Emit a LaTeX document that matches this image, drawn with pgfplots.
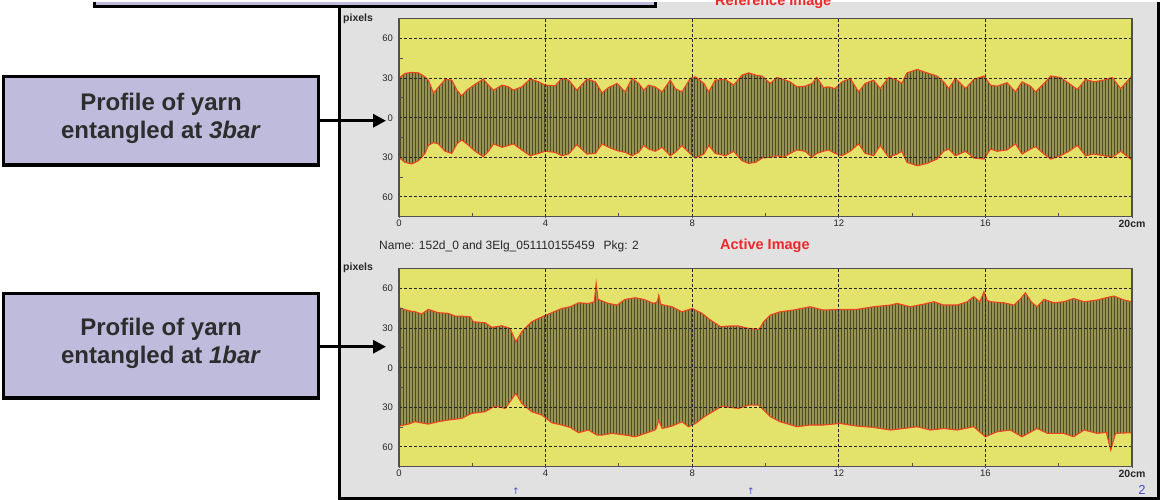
\documentclass[border=0pt]{standalone}
\usepackage{pgfplots}
\pgfplotsset{compat=1.18}
\usepackage{pgfplotstable}
\usetikzlibrary{patterns,arrows.meta}
\usepackage{fontspec}
\setmainfont{Liberation Sans}
\newfontfamily\dejavu{DejaVu Sans}

\definecolor{panelgray}{RGB}{225,225,225}
\definecolor{plotyellow}{RGB}{227,227,108}
\definecolor{lavender}{RGB}{191,187,221}
\definecolor{bodyfill}{RGB}{150,148,80}
\definecolor{stripe}{RGB}{40,40,18}
\definecolor{envred}{RGB}{240,68,30}
\definecolor{titlered}{RGB}{238,40,40}
\definecolor{axgray}{RGB}{80,80,80}
\definecolor{textdark}{RGB}{45,45,45}
\definecolor{markblue}{RGB}{70,80,200}

\pgfdeclarepatternformonly{vstripes}{\pgfpointorigin}{\pgfqpoint{2.9pt}{1pt}}{\pgfqpoint{2.9pt}{1pt}}%
  {\pgfpathrectangle{\pgfpointorigin}{\pgfqpoint{1.0pt}{1pt}}\pgfusepath{fill}}

% Reference image (3 bar): outline of the profile, upper edge left to right, then lower edge right to left
\pgfplotstableread{
x y
0.00 30
0.16 33.6
0.35 34.3
0.53 34
0.71 31
0.80 28.5
0.94 18.8
1.07 22.9
1.26 29
1.44 28.5
1.58 20.9
1.71 16.5
1.85 20.9
2.08 25.4
2.30 29.3
2.44 24.7
2.58 20.9
2.81 24.7
2.99 23.4
3.12 20.9
3.35 23.4
3.58 29.3
3.81 27.2
3.99 24.7
4.26 24.2
4.44 29.8
4.63 28.5
4.85 20.9
5.13 29.3
5.36 27.2
5.54 18.8
5.72 22.9
5.95 26
6.17 19.6
6.36 29.8
6.54 26
6.68 20.9
6.81 24.7
6.99 23.4
7.18 19.6
7.40 28.5
7.54 22.1
7.72 19.6
7.95 29.8
8.09 31
8.32 26
8.45 19.6
8.63 28.5
8.91 29
9.13 24.7
9.36 32.3
9.54 34
9.73 32.3
9.91 31.5
10.13 26
10.31 30.5
10.49 29
10.67 27.2
10.86 23.4
11.08 23.9
11.27 26
11.40 30.5
11.58 22.9
11.72 23.4
11.90 22.1
12.09 27.2
12.31 29.8
12.54 19.6
12.72 26
12.95 28.5
13.13 22.1
13.36 30.5
13.59 28.5
13.72 26
13.86 34
14.14 36.6
14.41 34
14.68 31.6
14.86 27.2
15.00 22.1
15.18 29.8
15.46 22.1
15.68 29
15.96 31.6
16.14 24.7
16.32 23.9
16.59 26.5
16.82 19.6
17.00 27.2
17.23 23.9
17.37 19.6
17.60 26
17.78 31.6
18.05 30.5
18.28 26
18.51 21.4
18.73 29
18.96 27.2
19.23 28.5
19.46 30.5
19.69 22.1
19.96 30.5
20.00 31.6
20.00 -31
19.96 -31.3
19.69 -25.4
19.46 -30
19.23 -28.8
18.96 -27.5
18.73 -28.8
18.51 -21
18.28 -25.4
18.05 -28.8
17.78 -31.3
17.60 -27.5
17.37 -21.9
17.23 -23.7
17.00 -27.5
16.82 -19.8
16.59 -24.4
16.32 -25.4
16.14 -23.7
15.96 -31.3
15.68 -30.5
15.46 -25.4
15.18 -28.8
15.00 -23.7
14.86 -25.4
14.68 -31.3
14.41 -34.6
14.14 -36.4
13.86 -33.8
13.72 -25.4
13.59 -27.5
13.36 -30
13.13 -21
12.95 -28.8
12.72 -27
12.54 -19.8
12.31 -25.4
12.09 -28.8
11.90 -27
11.72 -24.4
11.58 -25.4
11.40 -27
11.27 -30
11.08 -25.4
10.86 -24.4
10.67 -27
10.49 -30
10.31 -28.8
10.13 -30
9.91 -30.5
9.73 -33.8
9.54 -34.6
9.36 -32.6
9.13 -25.4
8.91 -28.8
8.63 -27
8.45 -21
8.32 -27.5
8.09 -30.5
7.95 -27.5
7.72 -21
7.54 -26.2
7.40 -28.8
7.18 -22.4
6.99 -25.4
6.81 -23.7
6.68 -21
6.54 -26.2
6.36 -28.8
6.17 -26.2
5.95 -24.9
5.72 -22.4
5.54 -19.8
5.36 -27
5.13 -27.5
4.85 -20.4
4.63 -27.5
4.44 -28.8
4.26 -26.2
3.99 -25.4
3.81 -27
3.58 -28.8
3.35 -24.4
3.12 -19.8
2.99 -21
2.81 -22.4
2.58 -19.8
2.44 -25.4
2.30 -29.5
2.08 -25.4
1.85 -19.8
1.71 -16.8
1.58 -19.8
1.44 -27
1.26 -25.4
1.07 -19.8
0.94 -18.8
0.80 -21
0.71 -27
0.53 -32.6
0.35 -35
0.16 -33.8
0.00 -30
}\toppoly

% Active image (1 bar): outline of the profile, upper edge left to right, then lower edge right to left
\pgfplotstableread{
x y
0.00 45.5
0.26 43.2
0.44 42.4
0.62 40.7
0.80 44.2
1.07 41.7
1.35 41.2
1.53 39.1
1.71 39.1
1.94 38.6
2.03 34.8
2.35 34.1
2.53 30.6
2.81 31.8
3.03 29.8
3.19 19.7
3.35 27.3
3.62 34.8
3.90 38.6
4.17 41.7
4.44 44.9
4.67 46.2
4.90 49.2
5.17 48.7
5.33 50
5.38 63.9
5.43 51.8
5.72 48.7
5.95 47.5
6.17 51.8
6.45 53
6.68 51.8
6.95 48.7
7.05 50
7.09 55
7.14 48
7.45 46.2
7.72 42.4
8.00 44.9
8.27 41.2
8.50 36.1
8.77 31.1
9.00 31.6
9.27 31.6
9.54 29.8
9.82 29
9.95 34.8
10.13 39.9
10.40 42.4
10.76 43.7
11.22 46.2
11.58 43.7
12.04 44.2
12.49 44.2
12.95 46.2
13.41 47.5
13.59 48.7
13.95 46.2
14.32 48.2
14.59 50
14.86 47.5
15.23 47.5
15.50 50
15.68 53.8
15.85 50
15.96 57.6
16.05 51
16.14 50
16.50 49.2
16.78 47.5
16.95 52
17.09 56.8
17.25 50
17.41 46.2
17.60 51.8
17.87 49.2
18.14 50
18.41 52.5
18.69 50
19.05 51.3
19.33 53.3
19.51 54.3
19.78 51.3
20.00 50
20.00 -49.2
19.55 -49.7
19.42 -62.4
19.30 -49
19.05 -49.7
18.69 -47.2
18.41 -52.3
18.14 -49.7
17.69 -49.7
17.41 -46
17.00 -52.3
16.68 -47.2
16.32 -48.5
16.00 -52.3
15.68 -44.7
15.23 -47.2
14.86 -46
14.50 -47.2
14.14 -44.7
13.77 -46
13.41 -47.2
12.95 -45.2
12.49 -44.2
12.04 -42.2
11.58 -43.4
11.22 -43.4
10.86 -44.7
10.40 -40.9
10.13 -37.1
9.95 -32.1
9.82 -28.3
9.54 -28.3
9.27 -30.8
9.00 -30
8.82 -29
8.63 -32.1
8.36 -36.6
8.09 -42.2
7.90 -44.7
7.72 -40.9
7.45 -44.2
7.18 -46
7.09 -40
7.00 -47
6.72 -49.7
6.45 -52.3
6.17 -51
5.81 -49.7
5.54 -51
5.40 -51
5.17 -47.2
4.90 -49.2
4.67 -45.2
4.44 -43.4
4.17 -41.7
3.90 -35.9
3.62 -33.3
3.35 -27
3.19 -19.4
2.90 -30.8
2.62 -29
2.35 -33.3
1.98 -34.6
1.71 -38.4
1.35 -39.6
1.07 -40.9
0.80 -42.7
0.44 -40.9
0.26 -42.7
0.00 -44.2
}\botpoly

\pgfplotsset{
  yarn/.style={
    scale only axis, width=733pt, height=198pt,
    xmin=0, xmax=20, ymin=-75, ymax=75,
    axis background/.style={fill=plotyellow},
    axis line style={draw=axgray, line width=1.5pt},
    xtick={0,4,8,12,16,20},
    xticklabels={0,4,8,12,16,{\fontsize{10.5}{12}\selectfont\bfseries 20cm}},
    ytick={-60,-30,0,30,60},
    yticklabels={60,30,0,30,60},
    minor x tick num=1, minor y tick num=1,
    major tick length=0.1pt, minor tick length=3.5pt,
    tick style={draw=axgray, line width=0.9pt},
    tick pos=left,
    grid=major,
    major grid style={draw=black!85, line width=0.9pt, dash pattern=on 2.5pt off 2.5pt},
    axis on top,
    tick label style={font=\fontsize{9.5}{11}\selectfont, text=black!85},
    /pgf/number format/assume math mode=true,
    yticklabel style={xshift=-2.5pt},
  }
}

\begin{document}
\begin{tikzpicture}
\begin{scope}[x=1pt,y=1pt]
\fill[white] (0,0) rectangle (1160,498);

% instrument panel (top edge lies beyond the picture)
\fill[panelgray] (339.5,1.5) rectangle (1158,498);
\draw[line width=3pt] (339.5,498) -- (339.5,1.5) -- (1158,1.5) -- (1158,498);

% header of the reference image (mostly hidden under the box)
\node[overlay, anchor=base west, inner sep=0pt, font=\fontsize{14.5}{16}\selectfont\bfseries, text=titlered] at (715,494) {Reference Image};
\node[anchor=base west, inner sep=0pt, font=\fontsize{12}{14}\selectfont, text=black!85] at (379,250)
  {Name: 152d\_0 and 3Elg\_051110155459\hspace{9pt}Pkg: 2};
\node[anchor=base west, inner sep=0pt, font=\fontsize{14.5}{16}\selectfont\bfseries, text=titlered] at (720,250) {Active Image};

\node[anchor=base west, inner sep=0pt, font=\fontsize{10.5}{12}\selectfont\bfseries, text=black!85] at (343,478) {pixels};
\node[anchor=base west, inner sep=0pt, font=\fontsize{10.5}{12}\selectfont\bfseries, text=black!85] at (343,229) {pixels};
\end{scope}

% top chart: reference image
\begin{axis}[yarn, at={(399pt,283pt)}, anchor=south west]
\addplot[fill=bodyfill, draw=none] table[x=x,y=y] {\toppoly};
\addplot[pattern=vstripes, pattern color=stripe, draw=none] table[x=x,y=y] {\toppoly};
\addplot[envred, line width=1.1pt] table[x=x,y=y] {\toppoly};
\end{axis}

% bottom chart: active image
\begin{axis}[yarn, at={(399pt,33pt)}, anchor=south west]
\addplot[fill=bodyfill, draw=none] table[x=x,y=y] {\botpoly};
\addplot[pattern=vstripes, pattern color=stripe, draw=none] table[x=x,y=y] {\botpoly};
\addplot[envred, line width=1.1pt] table[x=x,y=y] {\botpoly};
\end{axis}

\begin{scope}[x=1pt,y=1pt]
% markers below bottom chart
\node[font=\dejavu\fontsize{9}{10}\selectfont, text=markblue, inner sep=0pt] at (516,9) {↑};
\node[font=\dejavu\fontsize{9}{10}\selectfont, text=markblue, inner sep=0pt] at (751,9) {↑};
\node[font=\fontsize{13}{14}\selectfont, text=markblue, inner sep=0pt] at (1142,10) {2};

% top lavender box (cut off)
\fill[lavender] (94.5,493) rectangle (655.5,498);
\draw[line width=3.5pt] (94.5,498) -- (94.5,493) -- (655.5,493) -- (655.5,498);

% annotation boxes
\draw[line width=3.5pt, fill=lavender] (3.45,334.75) rectangle (318.25,423.25);
\node[anchor=base, inner sep=0pt, font=\fontsize{24}{28}\selectfont\bfseries, text=textdark] at (161,389.7) {Profile of yarn};
\node[anchor=base, inner sep=0pt, font=\fontsize{24}{28}\selectfont\bfseries, text=textdark] at (161,361.3) {entangled at \textit{3bar}};
\draw[line width=3pt, -{Triangle[length=13pt,width=13pt]}] (320,379) -- (386,379);

\draw[line width=3.5pt, fill=lavender] (3.45,101.75) rectangle (318.25,206.25);
\node[anchor=base, inner sep=0pt, font=\fontsize{24}{28}\selectfont\bfseries, text=textdark] at (161,164.7) {Profile of yarn};
\node[anchor=base, inner sep=0pt, font=\fontsize{24}{28}\selectfont\bfseries, text=textdark] at (161,136.3) {entangled at \textit{1bar}};
\draw[line width=3pt, -{Triangle[length=13pt,width=13pt]}] (320,153) -- (386,153);
\end{scope}
\end{tikzpicture}
\end{document}
